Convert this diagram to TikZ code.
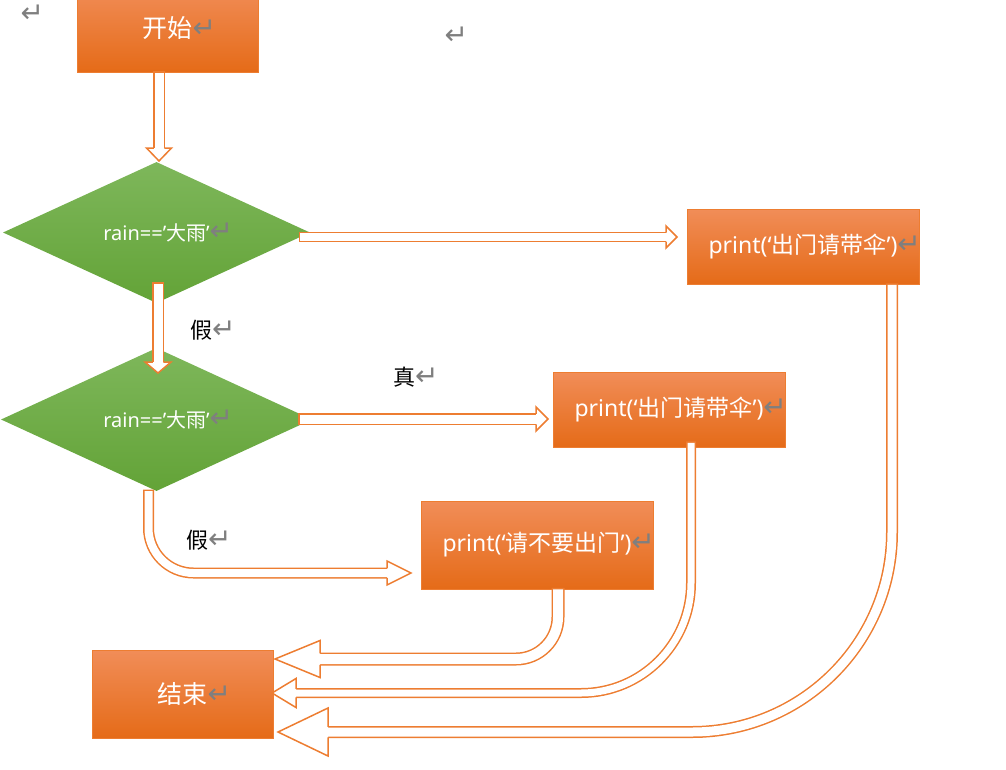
\documentclass[tikz,border=0pt]{standalone}
\usepackage{fontspec}
\setmainfont{Noto Sans}
\newfontfamily\cjk{Noto Sans CJK SC}
\newfontfamily\symfont{DejaVu Sans}
\usepackage{tikz}
\usetikzlibrary{calc,positioning,shapes.geometric}
\definecolor{orline}{HTML}{ED7D31}
\definecolor{ortop}{HTML}{F18D58}
\definecolor{ormid}{HTML}{F47E2A}
\definecolor{orbot}{HTML}{E56B18}
\definecolor{grtop}{HTML}{7EB75B}
\definecolor{grbot}{HTML}{63A337}
\definecolor{markgray}{HTML}{7F7F7F}
\newcommand{\retmark}{\rlap{\symfont\fontsize{28}{28}\selectfont\color{markgray}↵}}
\begin{document}
\begin{tikzpicture}[x=1pt, y=-1pt,
  box/.style={draw=orline, line width=0.8pt, top color=ortop, middle color=ormid, bottom color=orbot, text=white, inner sep=0pt},
  dia/.style={diamond, top color=grtop, bottom color=grbot, text=white, inner sep=0pt, font=\fontsize{20}{20}\selectfont},
  pipe/.style={draw=orline, line width=1.5pt, double=white, line cap=rect, shorten <=5pt},
  lbl/.style={anchor=west, inner sep=0pt, font=\cjk\fontsize{22}{22}\selectfont}]
\useasboundingbox (0,0) rectangle (1006,769);
\clip (0,0) rectangle (1006,769);

% boxes
\node[box, minimum width=181pt, minimum height=87pt, font=\cjk\fontsize{25}{25}\selectfont] (start) at (167.5,28.5) {开始\retmark};
\node[dia, minimum width=307pt, minimum height=141pt] (d1) at (156.5,232.5) {rain==’{\cjk 大雨}’\retmark};
\node[dia, minimum width=311pt, minimum height=143pt] (d2) at (156.5,419.5) {rain==’{\cjk 大雨}’\retmark};
\node[box, minimum width=232pt, minimum height=75pt, font=\fontsize{23}{23}\selectfont] (out1) at (803,246.5) {print(‘{\cjk 出门请带伞}’)\retmark};
\node[box, minimum width=232pt, minimum height=75pt, font=\fontsize{23}{23}\selectfont] (out2) at (669,409.5) {print(‘{\cjk 出门请带伞}’)\retmark};
\node[box, minimum width=232pt, minimum height=88pt, font=\fontsize{23}{23}\selectfont] (out3) at (537,545) {print(‘{\cjk 请不要出门}’)\retmark};
\node[box, minimum width=181pt, minimum height=88pt, font=\cjk\fontsize{25}{25}\selectfont] (end) at (182.5,694) {结束\retmark};

% labels
\node[lbl] (no1) at (190,330) {假\retmark};
\node[lbl] (yes) at (393,377) {真\retmark};
\node[lbl] (no2) at (186,540) {假\retmark};
\node[inner sep=0pt, anchor=west] (m1) at (444,36) {\retmark};
\node[inner sep=0pt, anchor=west] (m2) at (20,14) {\retmark};

% arrow tips
\coordinate (tA) at (159,161);
\coordinate (tB) at (677,237);
\coordinate (tC) at (158,373);
\coordinate (tD) at (548,419);
\coordinate (tE) at (411,573);
\coordinate (tF) at (275,659);
\coordinate (tG) at (272,693);
\coordinate (tH) at (278,732);

% shafts
\draw[pipe, double distance=9pt] (tA |- start.south) -- ([yshift=13pt]tA);
\draw[pipe, double distance=7.5pt] ($(d1.east |- tB)+(-11,0)$) -- ([xshift=-11pt]tB);
\draw[pipe, double distance=9pt] ($(tC |- d1.south)+(0,-20)$) -- ([yshift=11pt]tC);
\draw[pipe, double distance=9pt] ($(d2.east |- tD)+(-13,0)$) -- ([xshift=-12pt]tD);
\draw[pipe, double distance=8pt, rounded corners=45pt] ($(d2.south)+(-8,-1)$) |- ([xshift=-24pt]tE);
\draw[pipe, double distance=10pt, rounded corners=42pt] ($(out3.south)+(21,0)$) |- ([xshift=45pt]tF);
\draw[pipe, double distance=7pt, rounded corners=110pt] ($(out2.south)+(22,-6)$) |- ([xshift=24pt]tG);
\draw[pipe, double distance=9pt, rounded corners=200pt] ($(out1.south)+(89,0)$) |- ([xshift=50pt]tH);

% hollow heads
\foreach \t/\a/\l/\w/\s in {tA/-90/13/12.5/5.25, tB/0/11/11/4.5, tC/-90/11/13/5.25, tD/0/12/12/5.25,
  tE/0/24/12/4.75, tF/180/45/18.5/5.75, tG/180/24/14.5/4.25, tH/180/50/24/5.25}{
  \filldraw[fill=white, draw=orline, line width=1.5pt, shift={(\t)}, rotate=\a]
    (-\l,\s) -- (-\l,\w) -- (0,0) -- (-\l,-\w) -- (-\l,-\s);
}
\end{tikzpicture}
\end{document}
